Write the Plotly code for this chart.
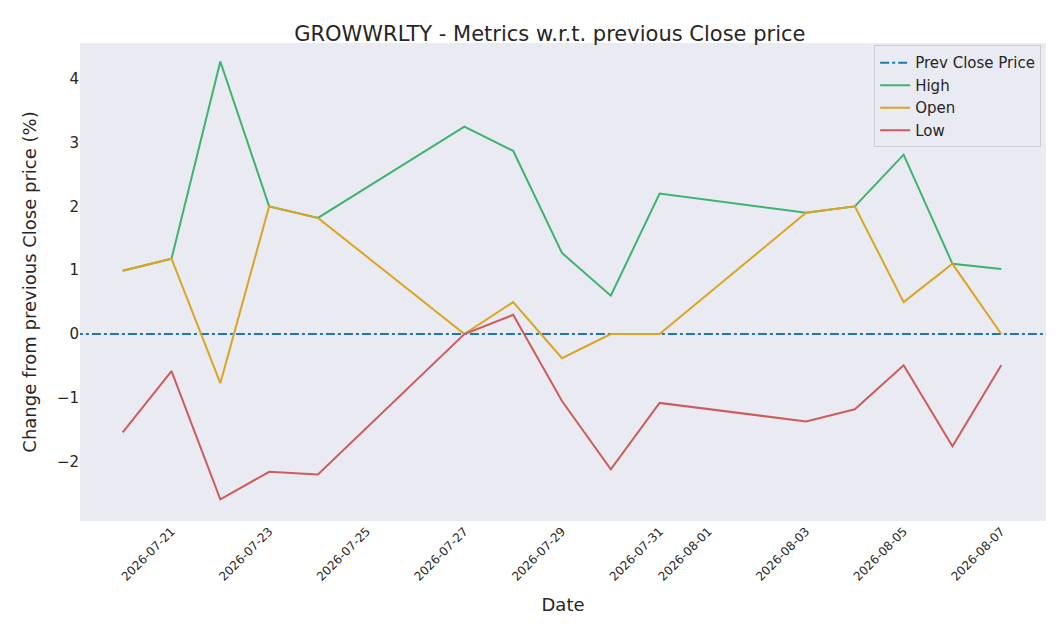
import plotly.graph_objects as go

dates = ["2026-07-20", "2026-07-21", "2026-07-22", "2026-07-23", "2026-07-24",
         "2026-07-27", "2026-07-28", "2026-07-29", "2026-07-30", "2026-07-31",
         "2026-08-03", "2026-08-04", "2026-08-05", "2026-08-06", "2026-08-07"]
high = [0.99, 1.18, 4.27, 2.0, 1.82, 3.25, 2.87, 1.27, 0.6, 2.2, 1.9, 2.0, 2.81, 1.1, 1.02]
open_ = [0.99, 1.18, -0.77, 2.0, 1.82, 0.0, 0.5, -0.38, 0.0, 0.0, 1.9, 2.0, 0.5, 1.1, 0.0]
low = [-1.54, -0.58, -2.59, -2.16, -2.2, 0.0, 0.3, -1.05, -2.12, -1.08, -1.37, -1.18, -0.49, -1.76, -0.49]
tick_dates = ["2026-07-21", "2026-07-23", "2026-07-25", "2026-07-27", "2026-07-29",
              "2026-07-31", "2026-08-01", "2026-08-03", "2026-08-05", "2026-08-07"]

fig = go.Figure()
fig.add_trace(go.Scatter(x=["2026-07-19", "2026-08-09"], y=[0, 0], mode="lines",
                         name="Prev Close Price", line=dict(color="#1f77b4", dash="dashdot", width=2)))
fig.add_trace(go.Scatter(x=dates, y=high, mode="lines", name="High", line=dict(color="#3cb371", width=2)))
fig.add_trace(go.Scatter(x=dates, y=open_, mode="lines", name="Open", line=dict(color="#daa520", width=2)))
fig.add_trace(go.Scatter(x=dates, y=low, mode="lines", name="Low", line=dict(color="#cd5c5c", width=2)))

fig.update_layout(
    width=1042, height=626,
    paper_bgcolor="white", plot_bgcolor="#eaeaf2",
    font=dict(family="DejaVu Sans", color="#262626"),
    title=dict(text="GROWWRLTY - Metrics w.r.t. previous Close price", x=0.52, y=0.97,
               font=dict(size=21)),
    margin=dict(l=72, r=4, t=35, b=113),
    showlegend=True,
    legend=dict(x=0.995, y=0.995, xanchor="right", yanchor="top", bgcolor="rgba(234,234,242,0.8)",
                bordercolor="#cccccc", borderwidth=1, font=dict(size=15)),
    xaxis=dict(title=dict(text="Date", font=dict(size=18)), range=["2026-07-19 03:00", "2026-08-07 22:00"],
               tickvals=tick_dates, ticktext=tick_dates, tickangle=-45, tickfont=dict(size=12),
               showgrid=False, zeroline=False, automargin=False),
    yaxis=dict(title=dict(text="Change from previous Close price (%)", font=dict(size=18)),
               range=[-2.93, 4.56], dtick=1, tickfont=dict(size=15), showgrid=False, zeroline=False,
               automargin=False),
)
fig.write_html("out.html")
